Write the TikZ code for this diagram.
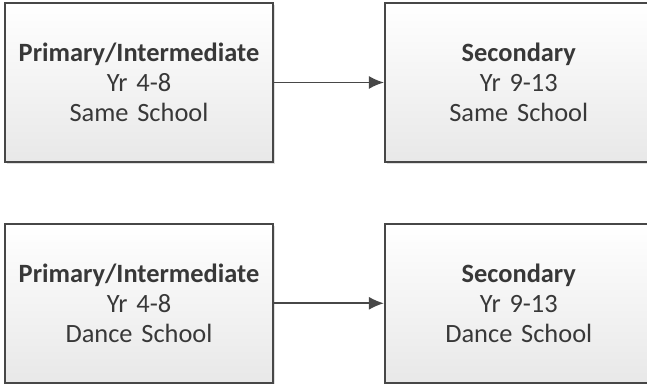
\documentclass[tikz,border=0pt]{standalone}
\usepackage{fontspec}
\setmainfont{Carlito}
\usepackage{tikz}
\usetikzlibrary{arrows,arrows.meta,positioning,shadows}
\tikzstyle{block} = [rectangle, draw=black!72, line width=0.9pt,
    top color=white, bottom color=black!9, text=black!78,
    text width=130pt, inner xsep=2pt, align=center, minimum height=79.5pt,
    font=\fontsize{13.2}{15}\selectfont,
    drop shadow={opacity=0.25, shadow xshift=1pt, shadow yshift=-1pt}]
\tikzstyle{line} = [draw, black!72, line width=0.8pt, -{Latex[length=7.5pt,width=6.5pt]}]

\begin{document}
\begin{tikzpicture}[]
        \useasboundingbox (0,0) rectangle (323.5pt,192pt);
        % Place nodes
        \node [block] (PriSame) at (69.5pt,150.75pt) {\textbf{Primary/Intermediate}\\Yr 4-8\\Same School};
        \node [block] (SecSame) [right =55pt of PriSame] {\textbf{Secondary}\\Yr 9-13\\Same School};
        \node [block] (PriDance) [below =30pt of PriSame] {\textbf{Primary/Intermediate}\\Yr 4-8\\Dance School};
        \node [block] (SecDance) [right =55pt of PriDance] {\textbf{Secondary}\\Yr 9-13\\Dance School};
        % Draw edges
        \path [line] (PriSame) -- (SecSame);
        \path [line] (PriDance) -- (SecDance);
    \end{tikzpicture}
\end{document}
